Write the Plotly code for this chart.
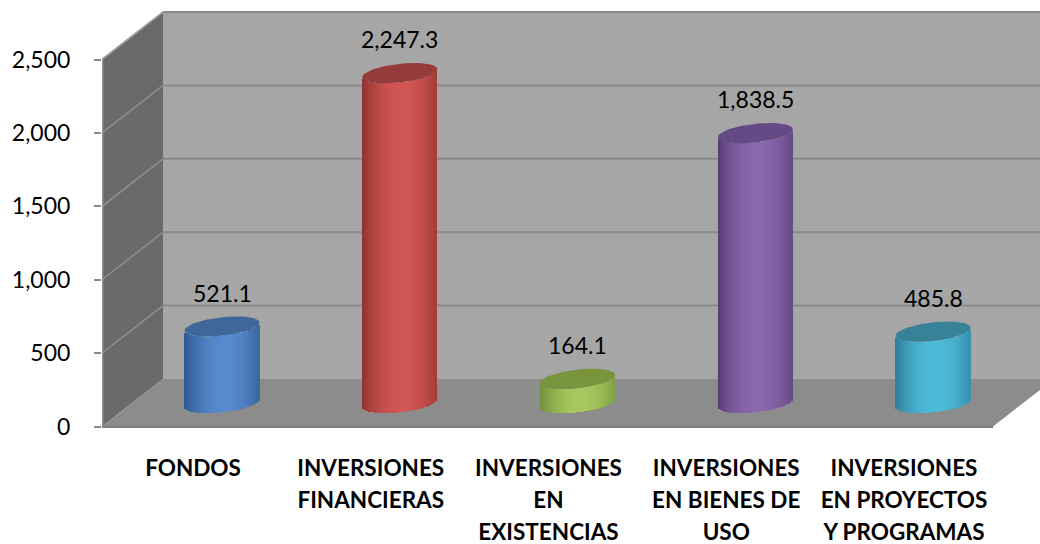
import math
import plotly.graph_objects as go

categories = [
    ["FONDOS"],
    ["INVERSIONES", "FINANCIERAS"],
    ["INVERSIONES", "EN", "EXISTENCIAS"],
    ["INVERSIONES", "EN BIENES DE", "USO"],
    ["INVERSIONES", "EN PROYECTOS", "Y PROGRAMAS"],
]
values = [521.1, 2247.3, 164.1, 1838.5, 485.8]
y_ticks = [0, 500, 1000, 1500, 2000, 2500]
center_colors = ["#5689CF", "#D25653", "#A5C95E", "#8A68AD", "#4DBAD9"]
edge_colors = ["#2C5789", "#8C302E", "#6E8C37", "#563A72", "#2B7C95"]
top_colors = ["#3F6898", "#953B39", "#78943D", "#654B86", "#378298"]

W, H = 1040, 544
ML, MB = 102, 116
PLOT_H = H - MB
X0, DX = 222.0, 177.75       # px of first category, px per category
Y0, SCALE = 426.5, 0.1468    # px of value 0 on the axis, px per unit
DEPTH_X, DEPTH_Y = 61, 47.5  # 3-D depth of the box
BASE_LIFT = 23.5             # bars stand in the middle of the floor
RX, RY, TILT = 37.5, 9.3, 4.0
FONT = "Lato"


def px(x):
    return (x - X0) / DX


def py(y):
    return (Y0 - y) / SCALE


def poly(points, color, line=None):
    path = "M " + " L ".join(f"{px(x)},{py(y)}" for x, y in points) + " Z"
    return dict(type="path", path=path, xref="x", yref="y", fillcolor=color,
                line=dict(width=0) if line is None else line, layer="below")


def seg(x1, y1, x2, y2, color, width=2):
    return dict(type="line", x0=px(x1), y0=py(y1), x1=px(x2), y1=py(y2),
                xref="x", yref="y", line=dict(color=color, width=width), layer="below")


def hex_rgb(c):
    return [int(c[i:i + 2], 16) for i in (1, 3, 5)]


def mix(a, b, t):
    ca, cb = hex_rgb(a), hex_rgb(b)
    return "rgb(" + ",".join(str(round(p + (q - p) * t)) for p, q in zip(ca, cb)) + ")"


def yval(v):
    return Y0 - v * SCALE


front_top, front_bot = yval(y_ticks[-1]), yval(0)
back_top, back_bot = front_top - DEPTH_Y, front_bot - DEPTH_Y
xl, xb = ML, ML + DEPTH_X
floor_r = 993

shapes = [
    poly([(xb, back_top), (W + 5, back_top), (W + 5, back_bot), (xb, back_bot)], "#A6A6A6"),
    poly([(xl, front_top), (xb, back_top), (xb, back_bot), (xl, front_bot)], "#6A6A6A"),
    poly([(xl, front_bot), (xb, back_bot), (floor_r + DEPTH_X, back_bot), (floor_r, front_bot)], "#8C8C8C"),
    poly([(xl, front_bot - 1), (floor_r, front_bot - 1), (floor_r, front_bot + 2), (xl, front_bot + 2)], "#808080"),
    seg(xl + 0.5, front_top, xl + 0.5, front_bot, "#8E8E8E", 2),
]
for v in y_ticks[1:]:
    y = yval(v)
    shapes.append(seg(xl, y, xb, y - DEPTH_Y, "#8E8E8E", 1.5))
    shapes.append(seg(xb, y - DEPTH_Y, W + 5, y - DEPTH_Y, "#8A8A8A", 2))
shapes.append(seg(xl, front_top, xb, back_top, "#A0A0A0", 1.5))

fig = go.Figure()
N = 38
for i, (v, cc, ec, tc) in enumerate(zip(values, center_colors, edge_colors, top_colors)):
    us = [-1 + (k + 0.5) * 2 / N for k in range(N)]
    xs = [i + u * RX / DX for u in us]
    bases = [(TILT * u - RY * math.sqrt(1 - u * u)) / SCALE for u in us]
    shade = [math.cos(min(abs(u - 0.08) / 1.08, 1) * math.pi / 2) ** 0.8 for u in us]
    fig.add_trace(go.Bar(
        x=xs, y=[v] * N, base=bases, width=[2 * RX / DX / N * 1.15] * N,
        marker=dict(color=[mix(ec, cc, s) for s in shade], line=dict(width=0)),
        yaxis="y2", showlegend=False, hoverinfo="skip",
    ))
    ts = [k * 2 * math.pi / 72 for k in range(73)]
    fig.add_trace(go.Scatter(
        x=[i + math.cos(t) * RX / DX for t in ts],
        y=[v + (TILT * math.cos(t) + RY * math.sin(t)) / SCALE for t in ts],
        mode="lines", fill="toself", fillcolor=tc, line=dict(width=0),
        yaxis="y2", showlegend=False, hoverinfo="skip",
    ))

annotations = [
    dict(x=i, y=v, xref="x", yref="y2", text=f"{v:,.1f}", showarrow=False, yanchor="middle",
         yshift=34, font=dict(family=FONT, size=23, color="#000000"))
    for i, v in enumerate(values)
]

ticktext = ["<br>".join(f"<span style='font-size:22.5px'>{ln}</span>" for ln in lines) for lines in categories]

fig.update_layout(
    width=W, height=H, autosize=False,
    margin=dict(l=ML, r=0, t=0, b=MB, pad=0),
    paper_bgcolor="white", plot_bgcolor="white",
    barmode="overlay", bargap=0, showlegend=False,
    shapes=shapes, annotations=annotations,
    xaxis=dict(range=[px(ML), px(W)], tickmode="array", automargin=False,
               tickvals=[i + px(X0 - 29) for i in range(len(categories))],
               ticktext=ticktext, showgrid=False, zeroline=False, showline=False, ticks="",
               tickangle=0, ticklabelstandoff=22,
               tickfont=dict(family=FONT, size=24.6, color="#000000", weight=700)),
    yaxis=dict(range=[py(H - MB), py(0)], tickmode="array", tickvals=y_ticks, automargin=False,
               tickformat=",d", showgrid=False, zeroline=False, showline=False,
               ticks="outside", ticklen=7, tickwidth=1.5, tickcolor="#8A8A8A",
               ticklabelstandoff=19,
               tickfont=dict(family=FONT, size=23, color="#000000")),
    yaxis2=dict(range=[py(H - MB) - BASE_LIFT / SCALE, py(0) - BASE_LIFT / SCALE],
                overlaying="y", side="left", visible=False, automargin=False),
)
fig.write_html("out.html", config={"displayModeBar": False},
               post_script="document.body.style.margin='0';document.body.style.overflow='hidden';")
